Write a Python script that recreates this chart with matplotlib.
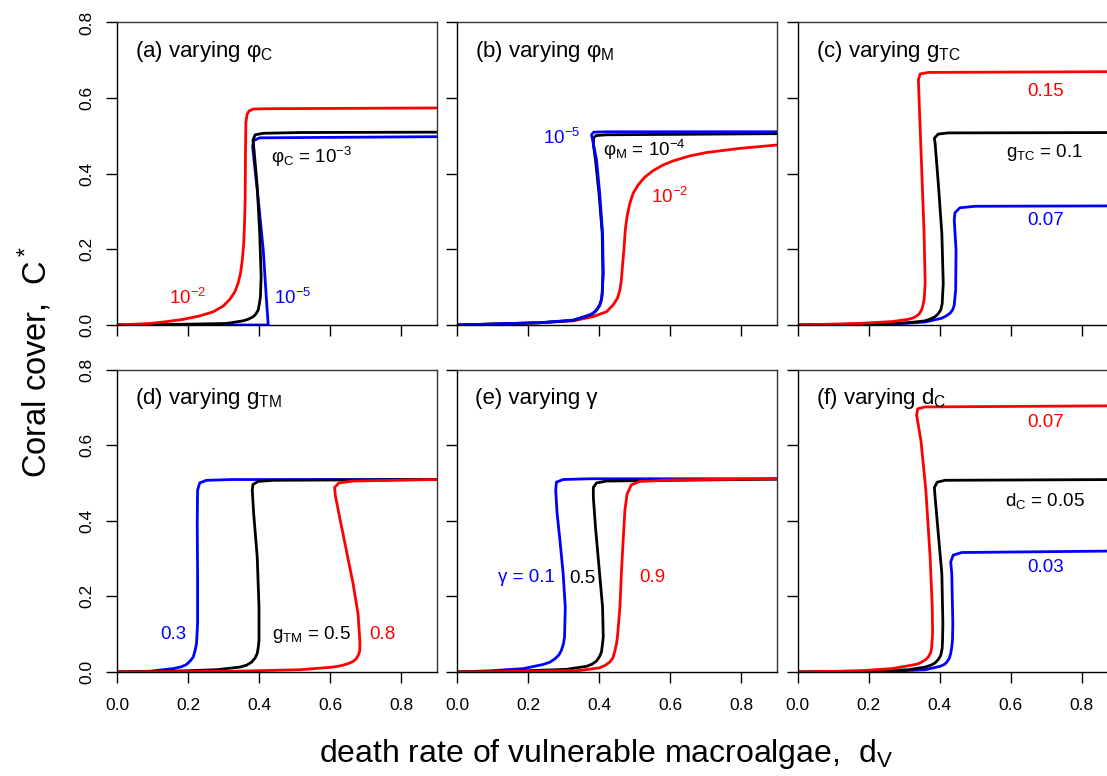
import matplotlib
matplotlib.use("Agg")
import matplotlib.pyplot as plt

plt.rcParams['font.family'] = ['Liberation Sans', 'DejaVu Sans']
plt.rcParams['mathtext.fontset'] = 'custom'
plt.rcParams['mathtext.rm'] = 'Liberation Sans'
plt.rcParams['mathtext.it'] = 'Liberation Sans:italic'
plt.rcParams['mathtext.bf'] = 'Liberation Sans:bold'

RED, BLUE, BLACK = '#FF0000', '#0000FF', '#000000'

# ---------------- data (digitised) ----------------
# (a) varying phi_C
a_red_x = [0, 0.093, 0.140, 0.187, 0.233, 0.271, 0.299, 0.318, 0.332, 0.341, 0.348, 0.353, 0.357, 0.359, 0.361, 0.362, 0.363, 0.366, 0.372, 0.383, 0.421, 0.9]
a_red_y = [0, 0.004, 0.009, 0.015, 0.024, 0.035, 0.050, 0.068, 0.088, 0.110, 0.137, 0.172, 0.216, 0.260, 0.331, 0.463, 0.534, 0.556, 0.566, 0.571, 0.572, 0.574]
a_blk_x = [0, 0.187, 0.308, 0.355, 0.369, 0.384, 0.391, 0.398, 0.401, 0.404, 0.406, 0.402, 0.395, 0.386, 0.383, 0.389, 0.412, 0.515, 0.9]
a_blk_y = [0, 0.002, 0.004, 0.011, 0.015, 0.022, 0.029, 0.040, 0.056, 0.075, 0.128, 0.243, 0.366, 0.463, 0.489, 0.503, 0.507, 0.509, 0.510]
a_blu_x = [0, 0.426, 0.421, 0.412, 0.398, 0.385, 0.382, 0.385, 0.402, 0.9]
a_blu_y = [0, 0.0, 0.066, 0.198, 0.331, 0.445, 0.472, 0.488, 0.495, 0.498]

# (b) varying phi_M
b_red_x = [0, 0.233, 0.327, 0.383, 0.421, 0.440, 0.452, 0.459, 0.463, 0.466, 0.470, 0.474, 0.479, 0.487, 0.496, 0.510, 0.529, 0.552, 0.580, 0.609, 0.655, 0.702, 0.796, 0.9]
b_red_y = [0, 0.006, 0.011, 0.022, 0.035, 0.053, 0.071, 0.093, 0.119, 0.154, 0.197, 0.251, 0.287, 0.322, 0.348, 0.370, 0.391, 0.408, 0.423, 0.434, 0.447, 0.456, 0.467, 0.476]
b_blk_x = [0, 0.233, 0.327, 0.365, 0.379, 0.388, 0.396, 0.402, 0.407, 0.409, 0.411, 0.409, 0.400, 0.390, 0.384, 0.385, 0.392, 0.421, 0.9]
b_blk_y = [0, 0.006, 0.012, 0.023, 0.028, 0.034, 0.043, 0.052, 0.067, 0.083, 0.137, 0.243, 0.348, 0.437, 0.478, 0.495, 0.501, 0.503, 0.506]
b_blu_x = [0, 0.233, 0.327, 0.365, 0.379, 0.388, 0.396, 0.402, 0.407, 0.409, 0.412, 0.410, 0.402, 0.393, 0.382, 0.379, 0.385, 0.421, 0.9]
b_blu_y = [0, 0.006, 0.013, 0.024, 0.029, 0.035, 0.044, 0.053, 0.068, 0.084, 0.137, 0.243, 0.348, 0.437, 0.489, 0.503, 0.510, 0.511, 0.511]

# (c) varying g_TC
c_red_x = [0, 0.171, 0.265, 0.312, 0.326, 0.335, 0.342, 0.349, 0.352, 0.356, 0.359, 0.356, 0.349, 0.342, 0.340, 0.345, 0.368, 0.9]
c_red_y = [0, 0.004, 0.009, 0.015, 0.019, 0.024, 0.029, 0.040, 0.049, 0.066, 0.110, 0.243, 0.419, 0.595, 0.648, 0.664, 0.668, 0.670]
c_blk_x = [0, 0.218, 0.312, 0.359, 0.374, 0.387, 0.396, 0.403, 0.407, 0.408, 0.410, 0.406, 0.396, 0.387, 0.385, 0.396, 0.424, 0.9]
c_blk_y = [0, 0.003, 0.006, 0.011, 0.016, 0.022, 0.030, 0.040, 0.056, 0.075, 0.110, 0.243, 0.375, 0.481, 0.494, 0.505, 0.508, 0.509]
c_blu_x = [0, 0.293, 0.359, 0.406, 0.420, 0.429, 0.437, 0.441, 0.445, 0.446, 0.441, 0.443, 0.457, 0.500, 0.9]
c_blu_y = [0, 0.004, 0.008, 0.018, 0.025, 0.031, 0.041, 0.053, 0.093, 0.198, 0.278, 0.297, 0.310, 0.314, 0.315]

# (d) varying g_TM
d_red_x = [0, 0.327, 0.515, 0.609, 0.632, 0.651, 0.665, 0.674, 0.681, 0.684, 0.684, 0.679, 0.665, 0.646, 0.627, 0.615, 0.613, 0.625, 0.665, 0.9]
d_red_y = [0, 0.002, 0.006, 0.013, 0.017, 0.022, 0.028, 0.035, 0.047, 0.057, 0.084, 0.154, 0.234, 0.322, 0.410, 0.467, 0.488, 0.500, 0.505, 0.509]
d_blk_x = [0, 0.187, 0.280, 0.346, 0.365, 0.379, 0.389, 0.395, 0.398, 0.400, 0.400, 0.395, 0.385, 0.381, 0.383, 0.398, 0.440, 0.9]
d_blk_y = [0, 0.003, 0.006, 0.013, 0.018, 0.026, 0.037, 0.049, 0.066, 0.084, 0.172, 0.304, 0.419, 0.481, 0.496, 0.504, 0.507, 0.509]
d_blu_x = [0, 0.093, 0.158, 0.182, 0.196, 0.207, 0.215, 0.220, 0.224, 0.227, 0.227, 0.226, 0.227, 0.233, 0.252, 0.327, 0.9]
d_blu_y = [0, 0.002, 0.009, 0.014, 0.020, 0.030, 0.040, 0.057, 0.075, 0.128, 0.260, 0.392, 0.481, 0.500, 0.507, 0.509, 0.509]

# (e) varying gamma
e_red_x = [0, 0.233, 0.346, 0.402, 0.418, 0.430, 0.439, 0.444, 0.449, 0.452, 0.459, 0.463, 0.468, 0.473, 0.479, 0.491, 0.515, 0.609, 0.9]
e_red_y = [0, 0.002, 0.004, 0.011, 0.018, 0.026, 0.037, 0.053, 0.073, 0.093, 0.172, 0.260, 0.348, 0.428, 0.470, 0.495, 0.504, 0.508, 0.511]
e_blk_x = [0, 0.187, 0.308, 0.365, 0.381, 0.393, 0.401, 0.407, 0.410, 0.412, 0.410, 0.400, 0.390, 0.384, 0.384, 0.393, 0.421, 0.9]
e_blk_y = [0, 0.003, 0.007, 0.015, 0.021, 0.029, 0.040, 0.053, 0.075, 0.093, 0.172, 0.278, 0.384, 0.463, 0.488, 0.500, 0.505, 0.510]
e_blu_x = [0, 0.093, 0.187, 0.243, 0.262, 0.276, 0.287, 0.294, 0.300, 0.303, 0.305, 0.299, 0.290, 0.282, 0.278, 0.280, 0.299, 0.374, 0.9]
e_blu_y = [0, 0.003, 0.009, 0.020, 0.026, 0.035, 0.045, 0.057, 0.075, 0.093, 0.172, 0.260, 0.348, 0.419, 0.481, 0.502, 0.509, 0.511, 0.511]

# (f) varying d_C
f_red_x = [0, 0.171, 0.265, 0.321, 0.337, 0.349, 0.361, 0.368, 0.374, 0.377, 0.380, 0.379, 0.373, 0.361, 0.347, 0.335, 0.338, 0.359, 0.9]
f_red_y = [0, 0.003, 0.009, 0.018, 0.021, 0.026, 0.033, 0.040, 0.050, 0.062, 0.101, 0.172, 0.304, 0.481, 0.613, 0.679, 0.696, 0.701, 0.704]
f_blk_x = [0, 0.218, 0.312, 0.359, 0.375, 0.387, 0.396, 0.403, 0.407, 0.408, 0.409, 0.406, 0.396, 0.387, 0.385, 0.393, 0.415, 0.9]
f_blk_y = [0, 0.003, 0.006, 0.013, 0.018, 0.024, 0.033, 0.044, 0.063, 0.084, 0.128, 0.260, 0.366, 0.463, 0.488, 0.502, 0.507, 0.509]
f_blu_x = [0, 0.265, 0.359, 0.401, 0.413, 0.420, 0.427, 0.431, 0.434, 0.436, 0.437, 0.434, 0.431, 0.438, 0.462, 0.9]
f_blu_y = [0, 0.002, 0.006, 0.015, 0.020, 0.026, 0.036, 0.049, 0.066, 0.084, 0.128, 0.260, 0.291, 0.309, 0.316, 0.320]

titles = ["(a) varying φ$_\\mathrm{C}$", "(b) varying φ$_\\mathrm{M}$", "(c) varying g$_\\mathrm{TC}$",
          "(d) varying g$_\\mathrm{TM}$", "(e) varying γ", "(f) varying d$_\\mathrm{C}$"]

x_ticks = [0.0, 0.2, 0.4, 0.6, 0.8]
y_ticks = [0.0, 0.2, 0.4, 0.6, 0.8]
x_ticklabels = ["0.0", "0.2", "0.4", "0.6", "0.8"]
y_ticklabels = ["0.0", "0.2", "0.4", "0.6", "0.8"]

# curve labels: (text, x, y, colour)
a_labels = [("10$^{-2}$", 0.200, 0.071, RED), ("10$^{-5}$", 0.495, 0.071, BLUE),
            ("φ$_\\mathrm{C}$ = 10$^{-3}$", 0.548, 0.444, BLACK)]
b_labels = [("10$^{-5}$", 0.295, 0.494, BLUE), ("φ$_\\mathrm{M}$ = 10$^{-4}$", 0.529, 0.462, BLACK),
            ("10$^{-2}$", 0.599, 0.338, RED)]
c_labels = [("0.15", 0.698, 0.618, RED), ("g$_\\mathrm{TC}$ = 0.1", 0.696, 0.457, BLACK),
            ("0.07", 0.698, 0.277, BLUE)]
d_labels = [("0.3", 0.158, 0.100, BLUE), ("g$_\\mathrm{TM}$ = 0.5", 0.548, 0.100, BLACK),
            ("0.8", 0.748, 0.100, RED)]
e_labels = [("γ = 0.1", 0.197, 0.251, BLUE), ("0.5", 0.352, 0.248, BLACK),
            ("0.9", 0.549, 0.251, RED)]
f_labels = [("0.07", 0.698, 0.660, RED), ("d$_\\mathrm{C}$ = 0.05", 0.696, 0.451, BLACK),
            ("0.03", 0.698, 0.277, BLUE)]

panels = [
    [(a_blu_x, a_blu_y, BLUE), (a_blk_x, a_blk_y, BLACK), (a_red_x, a_red_y, RED)],
    [(b_red_x, b_red_y, RED), (b_blk_x, b_blk_y, BLACK), (b_blu_x, b_blu_y, BLUE)],
    [(c_blu_x, c_blu_y, BLUE), (c_blk_x, c_blk_y, BLACK), (c_red_x, c_red_y, RED)],
    [(d_blu_x, d_blu_y, BLUE), (d_blk_x, d_blk_y, BLACK), (d_red_x, d_red_y, RED)],
    [(e_blu_x, e_blu_y, BLUE), (e_blk_x, e_blk_y, BLACK), (e_red_x, e_red_y, RED)],
    [(f_blu_x, f_blu_y, BLUE), (f_blk_x, f_blk_y, BLACK), (f_red_x, f_red_y, RED)],
]
labels = [a_labels, b_labels, c_labels, d_labels, e_labels, f_labels]

# ---------------- layout ----------------
W, H = 1107, 776
fig = plt.figure(figsize=(W / 100, H / 100), dpi=100)

col_left = [117, 457, 797.7]
row_bottom = [325, 672]   # pixel y of the data 0 line
aw, ah = 319.5, 302.5

for i in range(6):
    r, c = divmod(i, 3)
    ax = fig.add_axes([col_left[c] / W, (H - row_bottom[r]) / H, aw / W, ah / H])
    for xs, ys, col in panels[i]:
        ax.plot(xs, ys, color=col, lw=2.0, solid_joinstyle='round', solid_capstyle='round')
    ax.set_xlim(0, 0.9)
    ax.set_ylim(0, 0.8)
    ax.set_xticks(x_ticks)
    ax.set_yticks(y_ticks)
    ax.set_xticklabels(x_ticklabels)
    ax.set_yticklabels(y_ticklabels)
    ax.tick_params(direction='out', length=8, width=1.0, labelsize=12.5, color='black')
    ax.tick_params(axis='x', pad=11)
    ax.tick_params(axis='y', pad=8)
    plt.setp(ax.get_yticklabels(), rotation=90, va='center')
    for sp in ax.spines.values():
        sp.set_linewidth(1.0)
        sp.set_color('#333333')
    ax.spines['left'].set_color('black')
    ax.spines['bottom'].set_color('black')
    if r == 0:
        ax.tick_params(labelbottom=False)
    if c != 0:
        ax.tick_params(labelleft=False)
    ax.text(0.056, 0.905, titles[i], transform=ax.transAxes, ha='left', va='center', fontsize=16)
    for txt, lx, ly, col in labels[i]:
        ax.text(lx, ly, txt, color=col, ha='center', va='center', fontsize=13.5)

fig.text(35 / W, (H - 362) / H, "Coral cover,  C$^*$", rotation=90, ha='center', va='center', fontsize=23.5)
fig.text(606 / W, (H - 754) / H, "death rate of vulnerable macroalgae,  d$_\\mathrm{V}$",
         ha='center', va='center', fontsize=23)

fig.savefig("out.png", dpi=100)
